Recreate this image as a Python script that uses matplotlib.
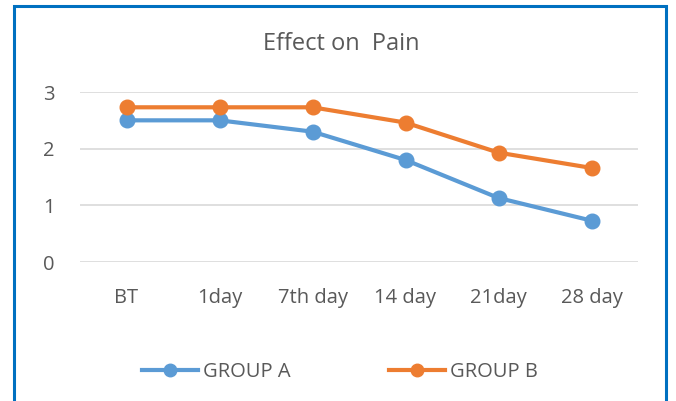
import matplotlib
matplotlib.use("Agg")
import matplotlib.pyplot as plt
from matplotlib.patches import Rectangle
from matplotlib.lines import Line2D

categories = ["BT", "1day", "7th day", "14 day", "21day", "28 day"]
group_a = [2.5, 2.5, 2.3, 1.8, 1.13, 0.73]
group_b = [2.73, 2.73, 2.73, 2.46, 1.93, 1.66]
y_ticks = [0, 1, 2, 3]

plt.rcParams['font.family'] = ['Open Sans', 'DejaVu Sans']
W, H = 676, 401
fig = plt.figure(figsize=(W/100, H/100), dpi=100)
fig.patch.set_facecolor("white")

# border
fig.patches.append(Rectangle((14/W, -0.05), (666-14)/W, (H-5.5)/H + 0.05, transform=fig.transFigure,
                             fill=False, edgecolor="#0070C0", linewidth=2.2))

ax = fig.add_axes([80/W, 1-262/H, (638-80)/W, (262-92)/H])
x = list(range(len(categories)))
ax.plot(x, group_a, color="#5B9BD5", linewidth=3, marker="o", markersize=10.5, label="GROUP A")
ax.plot(x, group_b, color="#ED7D31", linewidth=3, marker="o", markersize=10.5, label="GROUP B")
ax.set_xlim(-0.5, len(categories)-0.5)
ax.set_ylim(0, 3)
ax.set_yticks(y_ticks)
ax.set_xticks(x)
ax.set_xticklabels(categories)
ax.grid(axis="y", color="#D9D9D9", linewidth=1.2)
ax.set_axisbelow(True)
for s in ax.spines.values():
    s.set_visible(False)
ax.tick_params(length=0, labelsize=14.5, colors="#595959")
ax.tick_params(axis="x", pad=19)
ax.tick_params(axis="y", pad=18)

fig.text(341/W, 1-44/H, "Effect on  Pain", ha="center", va="center", fontsize=17, color="#595959")

handles = [Line2D([], [], color="#5B9BD5", linewidth=3, marker="o", markersize=9),
           Line2D([], [], color="#ED7D31", linewidth=3, marker="o", markersize=9)]
fig.legend(handles, ["GROUP A", "GROUP B"], loc="center", bbox_to_anchor=(340/W, 1-372/H), ncol=2,
           frameon=False, fontsize=14.5, labelcolor="#595959", handlelength=2.75, handletextpad=0.25,
           columnspacing=4.9)

fig.savefig("out.png", dpi=100)
